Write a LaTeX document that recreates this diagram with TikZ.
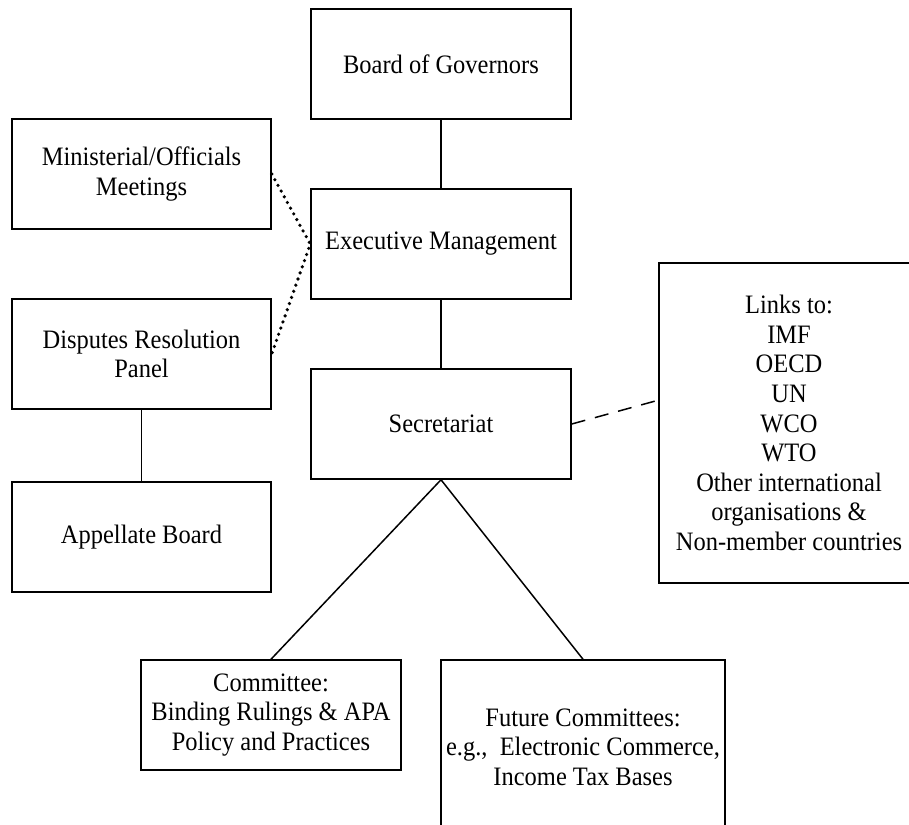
\documentclass[tikz,border=0pt]{standalone}
\usepackage{fontspec}
\setmainfont{Liberation Serif}[FakeStretch=0.92]
\begin{document}
\begin{tikzpicture}[x=1pt,y=1pt,
  box/.style={draw=black, line width=1.5pt, inner sep=0pt, align=center,
    font=\fontsize{26.6}{29.6}\selectfont},
  solidlink/.style={draw=black, line width=1.5pt},
  dotlink/.style={draw=black, line width=3.6pt, line cap=round, dash pattern=on 0pt off 6.5pt},
  dashlink/.style={draw=black, line width=1.5pt, dash pattern=on 14pt off 10pt}]
\useasboundingbox (0,0) rectangle (909,-824);
\node[box, minimum width=260pt, minimum height=110pt] (board) at (441,-64) {Board of Governors};
\node[box, minimum width=260pt, minimum height=110pt] (exec) at (441,-244) {Executive Management};
\node[box, minimum width=260pt, minimum height=110pt] (sec) at (441,-424) {Secretariat};
\node[box, minimum width=259pt, minimum height=110pt] (mins) at (141.5,-174) {Ministerial/Officials\\Meetings};
\node[box, minimum width=259pt, minimum height=110pt] (disp) at (141.5,-354) {Disputes Resolution\\Panel};
\node[box, minimum width=259pt, minimum height=110pt] (app) at (141.5,-537) {Appellate Board};
\node[box, minimum width=260pt, minimum height=320pt] (links) at (789,-423) {Links to:\\IMF\\OECD\\UN\\WCO\\WTO\\Other international\\organisations \&\\Non-member countries};
\node[box, minimum width=260pt, minimum height=110pt] (comm) at (271,-715) {Committee:\\Binding Rulings \& APA\\Policy and Practices};
\node[box, minimum width=284pt, minimum height=174pt] (fut) at (583,-747) {Future Committees:\\e.g.,\ \ Electronic Commerce,\\Income Tax Bases};
\coordinate (lk) at (659,-400);
\draw[solidlink] (board.south) -- (exec.north);
\draw[solidlink] (exec.south) -- (sec.north);
\draw[solidlink] (disp.south) -- (app.north);
\draw[solidlink] (comm.north) -- (sec.south) -- (fut.north);
\draw[dotlink] (mins.east) -- (exec.west) -- (disp.east);
\draw[dashlink] (sec.east) -- (lk);
\end{tikzpicture}
\end{document}
